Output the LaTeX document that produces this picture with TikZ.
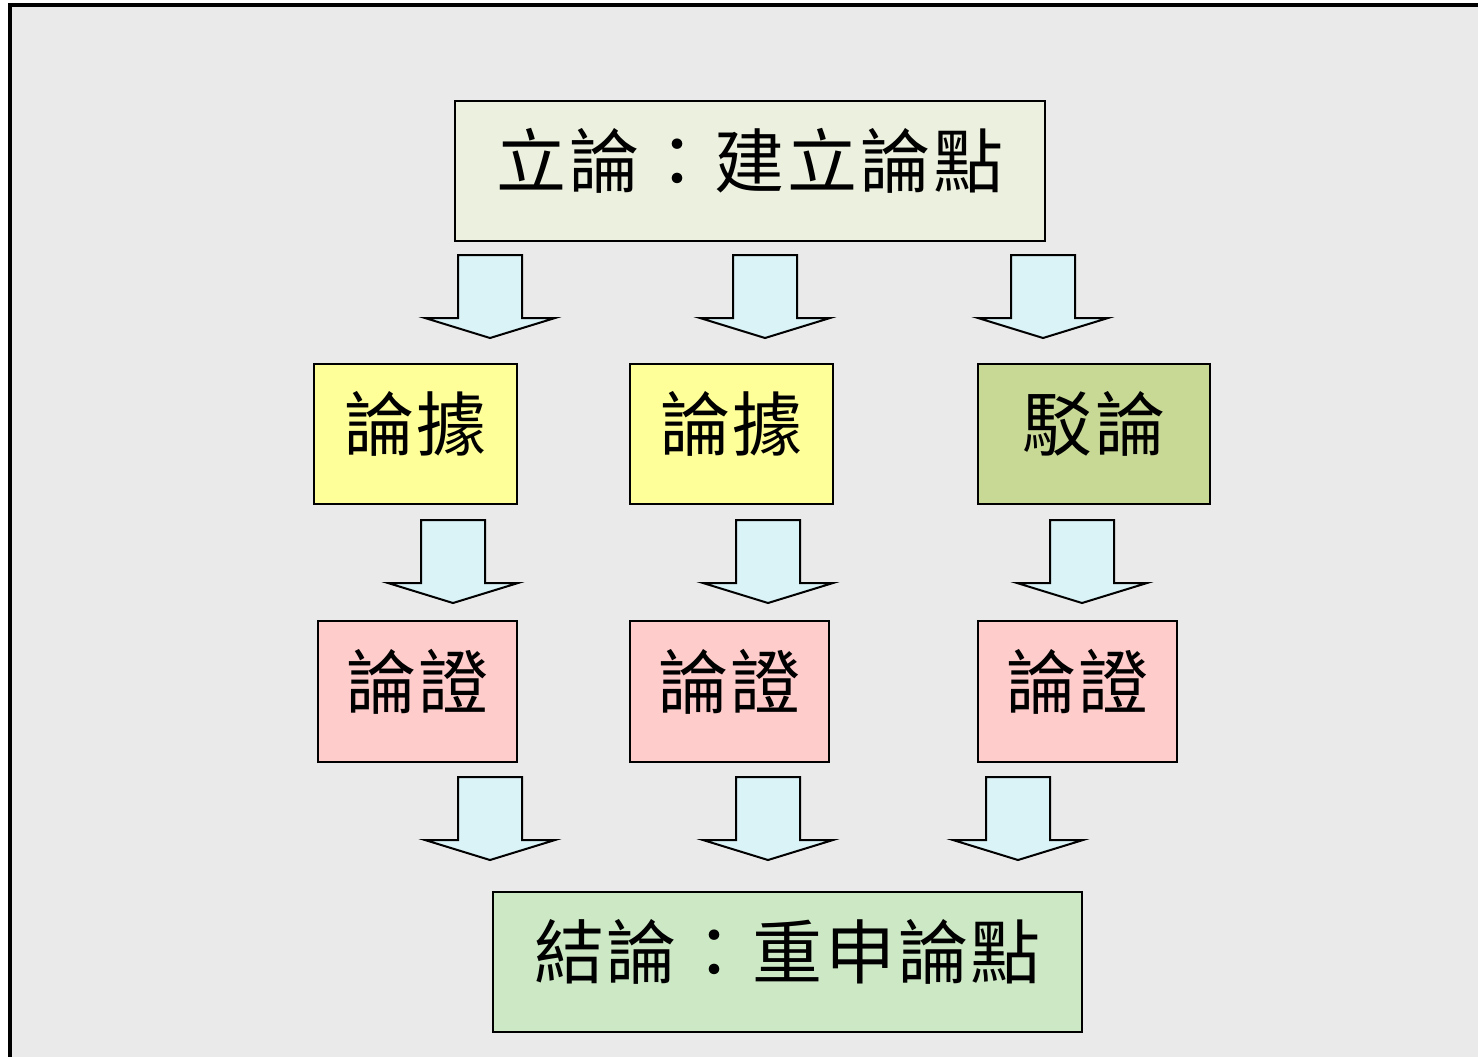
\documentclass[tikz,border=0pt]{standalone}
\usepackage{fontspec}
\newfontfamily\cjk[LetterSpace=4]{Noto Sans CJK TC}
\usepackage{tikz}

\definecolor{pagebg}{RGB}{234,234,234}
\definecolor{topfill}{RGB}{235,241,222}
\definecolor{yellowfill}{RGB}{255,255,153}
\definecolor{olivefill}{RGB}{200,217,150}
\definecolor{pinkfill}{RGB}{255,204,204}
\definecolor{endfill}{RGB}{204,232,196}
\definecolor{arrowfill}{RGB}{218,243,247}

\begin{document}
\begin{tikzpicture}[x=0.5pt, y=-0.5pt,
    box/.style={draw=black, line width=1pt, inner sep=0pt, minimum height=70pt,
        font={\cjk\fontsize{35}{35}\selectfont}, text height=31.5pt, text depth=15pt},
    downarrow/.style={draw=black, line width=1pt, fill=arrowfill, line join=miter}]
    \useasboundingbox (0,0) rectangle (1478,1056);
    % Frame
    \draw[line width=1.6pt, fill=pagebg] (10,5) rectangle (1500,1080);
    % Thesis
    \node[box, fill=topfill, minimum width=295pt] (thesis) at (750,171) {立論：建立論點};
    % Evidence and rebuttal
    \node[box, fill=yellowfill, minimum width=101.5pt] (evidA) at (415.5,434) {論據};
    \node[box, fill=yellowfill, minimum width=101.5pt] (evidB) at (731.5,434) {論據};
    \node[box, fill=olivefill, minimum width=116pt] (rebut) at (1094,434) {駁論};
    % Arguments
    \node[box, fill=pinkfill, minimum width=99.5pt, minimum height=70.5pt] (argA) at (417.5,691.5) {論證};
    \node[box, fill=pinkfill, minimum width=99.5pt, minimum height=70.5pt] (argB) at (729.5,691.5) {論證};
    \node[box, fill=pinkfill, minimum width=99.5pt, minimum height=70.5pt] (argC) at (1077.5,691.5) {論證};
    % Conclusion
    \node[box, fill=endfill, minimum width=294.5pt] (concl) at (787.5,961.5) {結論：重申論點};
    % Block arrows
    \foreach \x/\y in {490/255, 765/255, 1043/255, 453/520, 768/520, 1082/520, 490/777, 768/777, 1018/777}
        \draw[downarrow] (\x-32,\y) -- (\x+32,\y) -- (\x+32,\y+63) -- (\x+65,\y+63)
            -- (\x,\y+83) -- (\x-65,\y+63) -- (\x-32,\y+63) -- cycle;
\end{tikzpicture}
\end{document}
